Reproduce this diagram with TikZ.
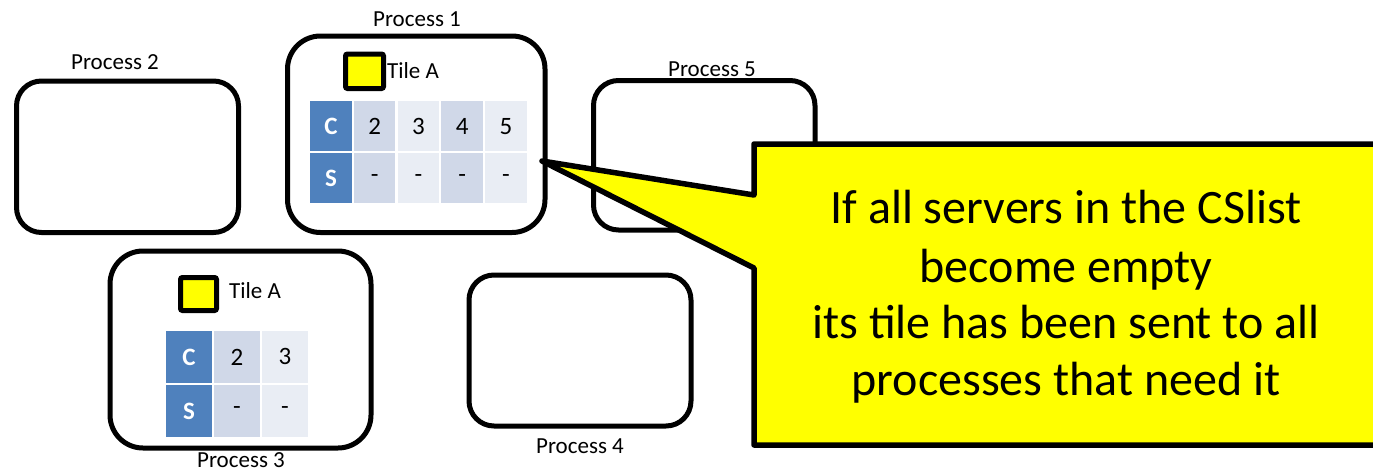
\documentclass[tikz,border=0pt]{standalone}
\usepackage{fontspec}
\setmainfont{Carlito}
\definecolor{hdrblue}{HTML}{4F81BD}
\definecolor{celldark}{HTML}{D0D8E8}
\definecolor{celllight}{HTML}{E9EDF4}
\definecolor{noteyellow}{HTML}{FFFF00}
\begin{document}
\begin{tikzpicture}[x=1pt,y=-1pt,
  procbox/.style={draw=black,line width=5pt,fill=white},
  plabel/.style={font=\fontsize{23}{27}\selectfont,anchor=base,inner sep=0pt},
  tilesq/.style={draw=black,line width=5pt,fill=noteyellow,rounded corners=2pt},
  tilelbl/.style={font=\fontsize{23}{27}\selectfont,anchor=base west,inner sep=0pt},
  cell/.style={anchor=north west,inner sep=0pt,minimum width=41.5pt,minimum height=50pt,
    font=\fontsize{25}{29}\selectfont},
  bigcell/.style={cell,minimum width=45.5pt,minimum height=51.5pt},
  hcell/.style={fill=hdrblue,text=white,font=\fontsize{25}{29}\selectfont\bfseries},
  dcell/.style={fill=celldark},
  lcell/.style={fill=celllight},
  callout/.style={draw=black,line width=5.5pt,fill=noteyellow,line join=round},
  calltext/.style={font=\fontsize{48}{57}\selectfont,anchor=base,inner sep=0pt}]

% page
\fill[white] (0,0) rectangle (1373,472);
\useasboundingbox (0,0) rectangle (1373,472);
\clip (0,0) rectangle (1373,472);

% process frames
\draw[procbox,rounded corners=25pt] (16.5,81) rectangle (238.5,232.5);
\draw[procbox,rounded corners=33pt] (287.5,36) rectangle (545,232.5);
\draw[procbox,rounded corners=25pt] (593.5,80.5) rectangle (815,230);
\draw[procbox,rounded corners=33pt] (110,251) rectangle (371,448);
\draw[procbox,rounded corners=25pt] (469,275) rectangle (691,426);

% process labels
\node[plabel] (p1lbl) at (417,26) {Process 1};
\node[plabel] (p2lbl) at (115,69) {Process 2};
\node[plabel] (p5lbl) at (712,76) {Process 5};
\node[plabel] (p3lbl) at (241,467) {Process 3};
\node[plabel] (p4lbl) at (580,453) {Process 4};

% process 1: tile and its client/server list
\draw[tilesq] (345.5,54) rectangle (383.5,88.5);
\node[tilelbl] (p1tile) at (387,78) {Tile A};
\node[cell,hcell] (p1c)  at (310,101)    {C};
\node[cell,dcell] (p1c2) at (353.75,101) {2};
\node[cell,lcell] (p1c3) at (397.5,101)  {3};
\node[cell,dcell] (p1c4) at (441.25,101) {4};
\node[cell,lcell] (p1c5) at (485,101)    {5};
\node[cell,hcell] (p1s)  at (310,153)    {S};
\node[cell,dcell] (p1s2) at (353.75,153) {-};
\node[cell,lcell] (p1s3) at (397.5,153)  {-};
\node[cell,dcell] (p1s4) at (441.25,153) {-};
\node[cell,lcell] (p1s5) at (485,153)    {-};

% process 3: tile and its client/server list
\draw[tilesq] (180.5,277.5) rectangle (216.5,310.5);
\node[tilelbl] (p3tile) at (229,298) {Tile A};
\node[bigcell,hcell] (p3c)  at (166,331) {C};
\node[bigcell,dcell] (p3c2) at (214,331) {2};
\node[bigcell,lcell] (p3c3) at (262,331) {3};
\node[bigcell,hcell] (p3s)  at (166,385) {S};
\node[bigcell,dcell] (p3s2) at (214,385) {-};
\node[bigcell,lcell] (p3s3) at (262,385) {-};

% callout pointing at process 1
\coordinate (tip) at (542,161);
\draw[callout] (754,144) -- (1395,144) -- (1395,445) -- (754,445)
  -- (754,268) -- (tip) -- (754,195) -- cycle;
\node[calltext] (note1) at (1066,223) {If all servers in the CSlist};
\node[calltext] (note2) at (1066,282) {become empty};
\node[calltext] (note3) at (1066,338) {its tile has been sent to all};
\node[calltext] (note4) at (1066,395) {processes that need it};
\end{tikzpicture}
\end{document}
